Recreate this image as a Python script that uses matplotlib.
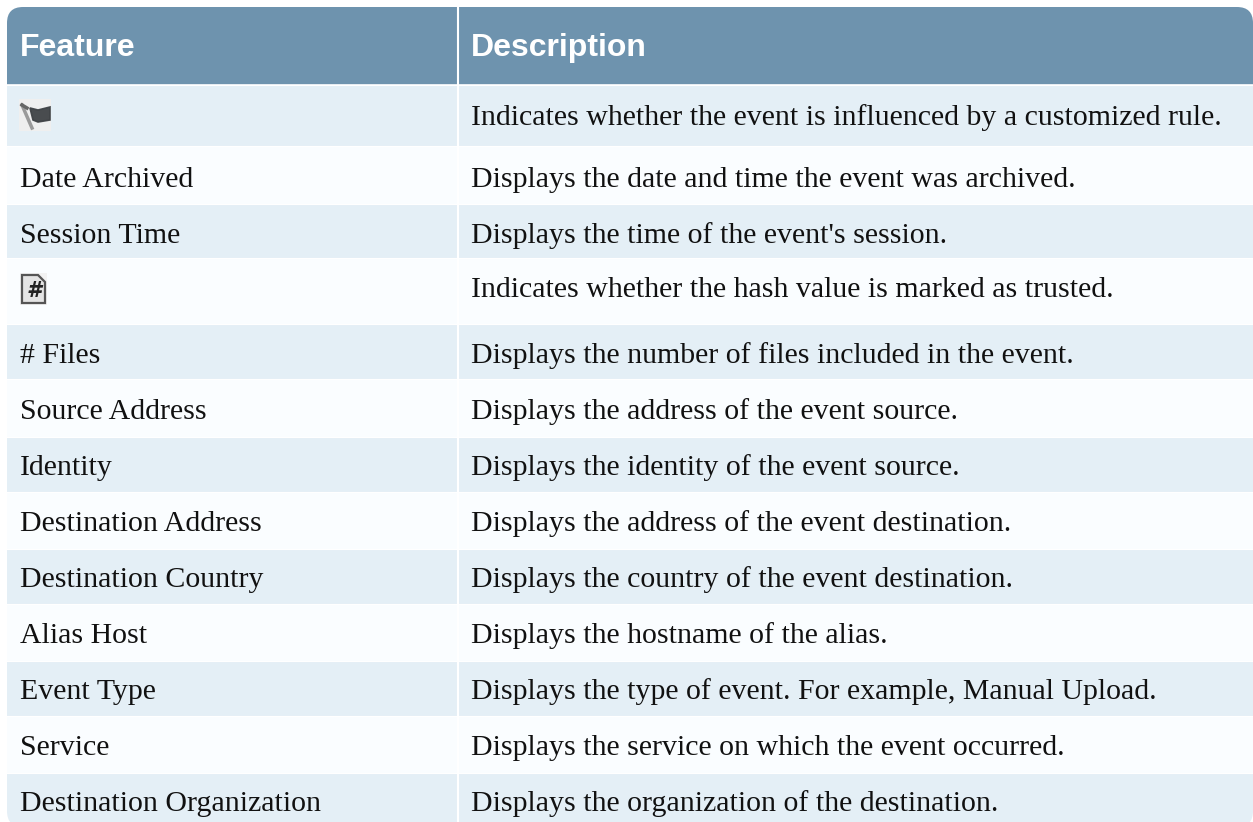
import matplotlib
matplotlib.use("Agg")
import matplotlib.pyplot as plt
from matplotlib.patches import Rectangle, FancyBboxPatch, Polygon

W, H = 1253, 822

# table content
features = ["", "Date Archived", "Session Time", "", "# Files", "Source Address",
            "Identity", "Destination Address", "Destination Country", "Alias Host",
            "Event Type", "Service", "Destination Organization"]
descriptions = [
    "Indicates whether the event is influenced by a customized rule.",
    "Displays the date and time the event was archived.",
    "Displays the time of the event's session.",
    "Indicates whether the hash value is marked as trusted.",
    "Displays the number of files included in the event.",
    "Displays the address of the event source.",
    "Displays the identity of the event source.",
    "Displays the address of the event destination.",
    "Displays the country of the event destination.",
    "Displays the hostname of the alias.",
    "Displays the type of event. For example, Manual Upload.",
    "Displays the service on which the event occurred.",
    "Displays the organization of the destination.",
]
headers = ["Feature", "Description"]

# layout in pixels
row_edges = [86, 147, 205, 259, 325, 380, 437, 492, 549, 604, 661, 716, 773, 830]
baselines = [125, 187, 243, 297, 363, 419, 475, 531, 587, 643, 699, 755, 811]
x0, xsplit, x1 = 7, 458, 1253

fig = plt.figure(figsize=(W / 100, H / 100), dpi=100)
ax = fig.add_axes([0, 0, 1, 1])
ax.set_xlim(0, W)
ax.set_ylim(H, 0)
ax.axis("off")

# rounded clip for whole table, bottom edge is cropped by the image
clip = FancyBboxPatch((x0, 7), x1 - x0, 820, boxstyle="round,pad=0,rounding_size=16",
                      fc="none", ec="none", transform=ax.transData)
ax.add_patch(clip)

rects = [Rectangle((x0, 7), x1 - x0, 78, fc="#6e93ae", ec="none")]
for i in range(len(features)):
    col = "#e4eff6" if i % 2 == 0 else "#fafdff"
    rects.append(Rectangle((x0, row_edges[i]), x1 - x0, row_edges[i + 1] - row_edges[i], fc=col, ec="none"))
for r in rects:
    ax.add_patch(r)
    r.set_clip_path(clip)
ax.plot([xsplit, xsplit], [7, H], color="white", lw=1.5, zorder=3)
ax.plot([x0, W], [85.5, 85.5], color="white", lw=1.2, zorder=3)
for y in row_edges[1:-1]:
    ax.plot([x0, W], [y - 0.5, y - 0.5], color="white", lw=0.8, zorder=3)

# header text
ax.text(20, 56, headers[0], fontsize=23, fontweight="bold", color="white",
        family="Liberation Sans", va="baseline", zorder=4)
ax.text(471, 56, headers[1], fontsize=23, fontweight="bold", color="white",
        family="Liberation Sans", va="baseline", zorder=4)

# rows
for i in range(len(features)):
    if features[i]:
        ax.text(19.5, baselines[i], features[i], fontsize=21.5, family="Liberation Serif",
                color="#111111", va="baseline", zorder=4)
    ax.text(471, baselines[i], descriptions[i], fontsize=21.5, family="Liberation Serif",
            color="#111111", va="baseline", zorder=4)

# flag icon
ax.add_patch(Rectangle((19, 99), 32, 32, fc="#efefef", ec="none", zorder=4))
ax.add_patch(Polygon([[30, 108], [38, 110], [50, 107], [50, 120], [38, 122], [33, 120]],
                     fc="#404346", ec="#404346", lw=1.2, alpha=0.95, zorder=5))
ax.plot([22, 32], [105, 128], color="#9a9a9a", lw=2.5, zorder=5)
ax.plot([22, 27], [105, 108], color="#666666", lw=2.5, zorder=5)

# hash file icon
ax.add_patch(Rectangle((20, 273), 27, 32, fc="#f2f2f2", ec="none", zorder=4))
ax.add_patch(Polygon([[22, 275], [38, 275], [45, 282], [45, 303], [22, 303]],
                     fc="#e4e4e4", ec="#555555", lw=1.6, zorder=5))
ax.text(33.5, 291, "#", fontsize=15, fontweight="bold", style="italic", color="#222222",
        ha="center", va="center", zorder=6)

fig.savefig("out.png", dpi=100)
